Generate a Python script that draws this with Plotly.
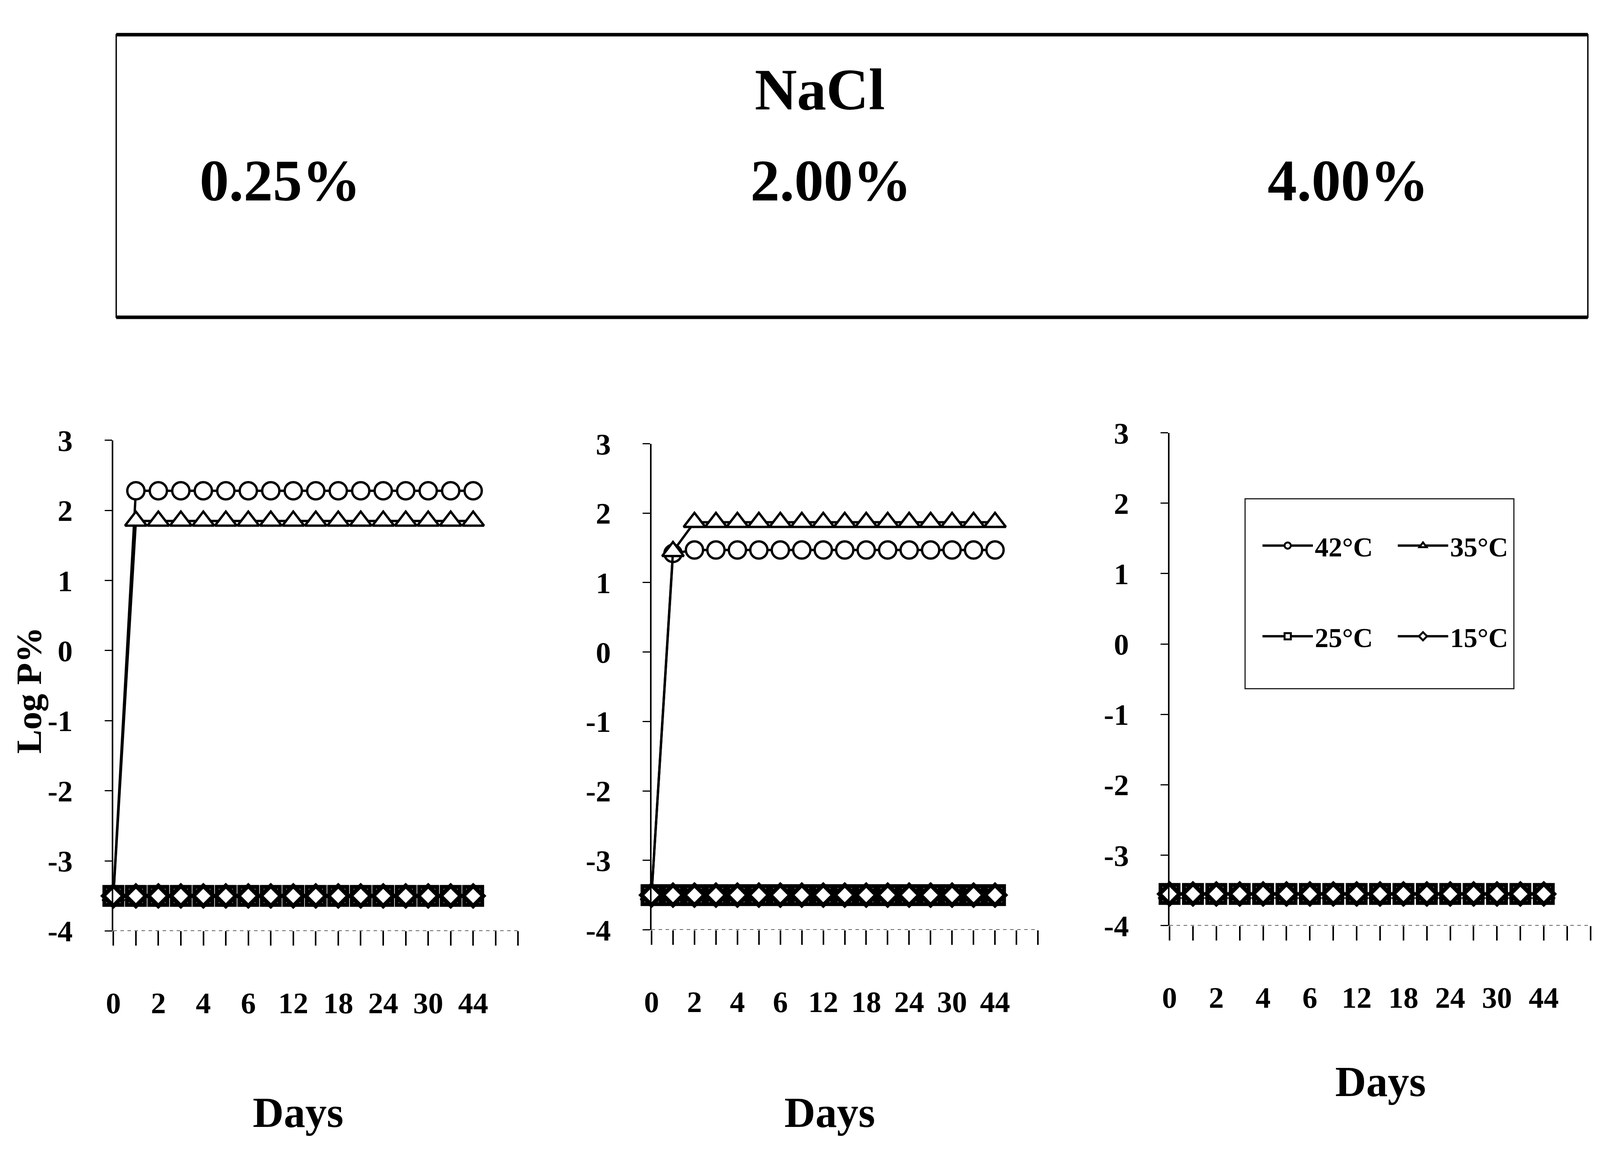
import plotly.graph_objects as go

# Reference picture size (pixels); every position below is a fraction of it
W, H = 6155, 2984

# ---------------- data ----------------
sample_index = list(range(17))                     # sampling points along the Days axis
day_ticks = [0, 2, 4, 6, 8, 10, 12, 14, 16]         # positions carrying a label
day_labels = ["0", "2", "4", "6", "12", "18", "24", "30", "44"]

series_names = ["42\u00b0C", "35\u00b0C", "25\u00b0C", "15\u00b0C"]
panel_titles = ["0.25%", "2.00%", "4.00%"]

# NaCl 0.25 %
p025_42 = [-3.5, 2.28, 2.28, 2.28, 2.28, 2.28, 2.28, 2.28, 2.28, 2.28, 2.28, 2.28, 2.28, 2.28, 2.28, 2.28, 2.28]
p025_35 = [-3.5, 1.85, 1.85, 1.85, 1.85, 1.85, 1.85, 1.85, 1.85, 1.85, 1.85, 1.85, 1.85, 1.85, 1.85, 1.85, 1.85]
p025_25 = [-3.5, -3.5, -3.5, -3.5, -3.5, -3.5, -3.5, -3.5, -3.5, -3.5, -3.5, -3.5, -3.5, -3.5, -3.5, -3.5, -3.5]
p025_15 = [-3.5, -3.5, -3.5, -3.5, -3.5, -3.5, -3.5, -3.5, -3.5, -3.5, -3.5, -3.5, -3.5, -3.5, -3.5, -3.5, -3.5]

# NaCl 2.00 %
p200_42 = [-3.5, 1.42, 1.47, 1.47, 1.47, 1.47, 1.47, 1.47, 1.47, 1.47, 1.47, 1.47, 1.47, 1.47, 1.47, 1.47, 1.47]
p200_35 = [-3.5, 1.45, 1.87, 1.87, 1.87, 1.87, 1.87, 1.87, 1.87, 1.87, 1.87, 1.87, 1.87, 1.87, 1.87, 1.87, 1.87]
p200_25 = [-3.5, -3.5, -3.5, -3.5, -3.5, -3.5, -3.5, -3.5, -3.5, -3.5, -3.5, -3.5, -3.5, -3.5, -3.5, -3.5, -3.5]
p200_15 = [-3.5, -3.5, -3.5, -3.5, -3.5, -3.5, -3.5, -3.5, -3.5, -3.5, -3.5, -3.5, -3.5, -3.5, -3.5, -3.5, -3.5]

# NaCl 4.00 %
p400_42 = [-3.55, -3.55, -3.55, -3.55, -3.55, -3.55, -3.55, -3.55, -3.55, -3.55, -3.55, -3.55, -3.55, -3.55, -3.55, -3.55, -3.55]
p400_35 = [-3.55, -3.55, -3.55, -3.55, -3.55, -3.55, -3.55, -3.55, -3.55, -3.55, -3.55, -3.55, -3.55, -3.55, -3.55, -3.55, -3.55]
p400_25 = [-3.55, -3.55, -3.55, -3.55, -3.55, -3.55, -3.55, -3.55, -3.55, -3.55, -3.55, -3.55, -3.55, -3.55, -3.55, -3.55, -3.55]
p400_15 = [-3.55, -3.55, -3.55, -3.55, -3.55, -3.55, -3.55, -3.55, -3.55, -3.55, -3.55, -3.55, -3.55, -3.55, -3.55, -3.55, -3.55]

y_ticks = [-4, -3, -2, -1, 0, 1, 2, 3]

panels = [
    [p025_42, p025_35, p025_25, p025_15],
    [p200_42, p200_35, p200_25, p200_15],
    [p400_42, p400_35, p400_25, p400_15],
]

# ---------------- styling ----------------
FONT = "Liberation Serif"
BLACK = "#000000"
TICK_FS = 77
TITLE_FS = 150
DAYS_FS = 110
LEG_FS = 70

marker_styles = [
    dict(symbol="circle", size=44, color="white", line=dict(color=BLACK, width=6)),
    dict(symbol="triangle-up", size=48, color="white", line=dict(color=BLACK, width=6)),
    dict(symbol="square", size=46, color="white", line=dict(color=BLACK, width=10)),
    dict(symbol="diamond", size=40, color="white", line=dict(color=BLACK, width=11)),
]
legend_of = ["legend", "legend2", "legend", "legend2"]


def px_x(v):
    return v / W


def px_y(v):
    return 1 - v / H


# panel geometry (reference pixels): x of sample 0, px per sample step, y of value 3 and -4
geom = [
    dict(x0=399, step=87.25, ytop=1115, ybot=2415),
    dict(x0=2487, step=83.3, ytop=1124, ybot=2412),
    dict(x0=4497, step=90.75, ytop=1095, ybot=2401),
]
XMAX = 18

fig = go.Figure()

for p, data in enumerate(panels):
    xa = "x" if p == 0 else f"x{p+1}"
    ya = "y" if p == 0 else f"y{p+1}"
    for s, vals in enumerate(data):
        fig.add_trace(go.Scatter(
            x=sample_index, y=vals, xaxis=xa, yaxis=ya,
            mode="lines+markers", name=series_names[s],
            line=dict(color=BLACK, width=6),
            marker=marker_styles[s],
            legendgroup=series_names[s],
            legend=legend_of[s],
            showlegend=(p == 2),
            cliponaxis=False,
        ))

tickvals_x = list(range(0, XMAX + 1))
ticktext_x = []
for v in tickvals_x:
    ticktext_x.append(day_labels[day_ticks.index(v)] if v in day_ticks else "")

layout = dict(
    autosize=True,
    margin=dict(l=0, r=0, t=0, b=0, pad=0),
    paper_bgcolor="white", plot_bgcolor="white",
    font=dict(family=FONT, color=BLACK, size=TICK_FS, weight="bold"),
    showlegend=True,
)

shapes = []
annotations = []
for p, g in enumerate(geom):
    xk = "xaxis" if p == 0 else f"xaxis{p+1}"
    yk = "yaxis" if p == 0 else f"yaxis{p+1}"
    yref = "y" if p == 0 else f"y{p+1}"
    x_end = g["x0"] + XMAX * g["step"]
    layout[xk] = dict(
        domain=[px_x(g["x0"]), px_x(x_end)],
        anchor=yref, range=[0, XMAX],
        tickmode="array", tickvals=tickvals_x, ticktext=ticktext_x,
        ticks="outside", ticklen=37, tickwidth=3.5, tickcolor=BLACK,
        showline=False, showgrid=False, zeroline=False,
        tickfont=dict(family=FONT, size=TICK_FS, color=BLACK, weight="bold"),
        ticklabelstandoff=80,
    )
    layout[yk] = dict(
        domain=[px_y(g["ybot"]), px_y(g["ytop"])],
        anchor="x" if p == 0 else f"x{p+1}",
        range=[-4, 3],
        tickmode="array", tickvals=y_ticks, ticktext=[str(v) for v in y_ticks],
        ticks="outside", ticklen=19, tickwidth=3, tickcolor=BLACK,
        showline=True, linewidth=3.5, linecolor=BLACK,
        showgrid=False, zeroline=False,
        tickfont=dict(family=FONT, size=TICK_FS, color=BLACK, weight="bold"),
        ticklabelstandoff=66,
    )
    # broken-looking horizontal axis line at y = -4
    shapes.append(dict(
        type="line", xref="x" if p == 0 else f"x{p+1}", yref=yref,
        x0=0, x1=XMAX, y0=-4, y1=-4, layer="below",
        line=dict(color="#333333", width=3, dash="dash"),
    ))

# "Days" titles
days_pos = [(1115, 2896), (3178, 2896), (5315, 2814)]
for (dx, dy) in days_pos:
    annotations.append(dict(
        text="Days", x=px_x(dx), y=px_y(dy), xref="paper", yref="paper",
        showarrow=False, xanchor="center", yanchor="middle",
        font=dict(family=FONT, size=DAYS_FS, color=BLACK, weight="bold"),
    ))

# y axis title
annotations.append(dict(
    text="Log P%", x=px_x(72), y=px_y(1777), xref="paper", yref="paper",
    showarrow=False, textangle=-90, xanchor="center", yanchor="middle",
    font=dict(family=FONT, size=92, color=BLACK, weight="bold"),
))

# header box
bx0, bx1, by0, by1 = 410, 6120, 40, 789
shapes.append(dict(type="rect", xref="paper", yref="paper",
                   x0=px_x(bx0), x1=px_x(bx1), y0=px_y(by1), y1=px_y(by0),
                   line=dict(color=BLACK, width=3.5)))
for yy in (by0, by1):
    shapes.append(dict(type="line", xref="paper", yref="paper",
                       x0=px_x(bx0), x1=px_x(bx1), y0=px_y(yy), y1=px_y(yy),
                       line=dict(color=BLACK, width=9)))

annotations.append(dict(
    text="NaCl", x=px_x(3139), y=px_y(185), xref="paper", yref="paper",
    showarrow=False, xanchor="center", yanchor="middle",
    font=dict(family=FONT, size=TITLE_FS, color=BLACK, weight="bold"),
))
for t, cx in zip(panel_titles, [1047, 3184, 5190]):
    annotations.append(dict(
        text=t, x=px_x(cx), y=px_y(427), xref="paper", yref="paper",
        showarrow=False, xanchor="center", yanchor="middle",
        font=dict(family=FONT, size=TITLE_FS, color=BLACK, weight="bold"),
    ))

# legend frame
shapes.append(dict(type="rect", xref="paper", yref="paper",
                   x0=px_x(4790), x1=px_x(5833), y0=px_y(1773), y1=px_y(1270),
                   line=dict(color="#222222", width=3)))

legend_common = dict(
    orientation="v", xanchor="left", yanchor="top",
    bgcolor="rgba(0,0,0,0)", borderwidth=0,
    font=dict(family=FONT, size=LEG_FS, color=BLACK, weight="bold"),
    itemwidth=129, tracegroupgap=138, traceorder="grouped",
)
layout["legend"] = dict(legend_common, x=px_x(4850), y=px_y(1340))
layout["legend2"] = dict(legend_common, x=px_x(5375), y=px_y(1340))

layout["shapes"] = shapes
layout["annotations"] = annotations
fig.update_layout(**layout)

fig.write_html("out.html")
